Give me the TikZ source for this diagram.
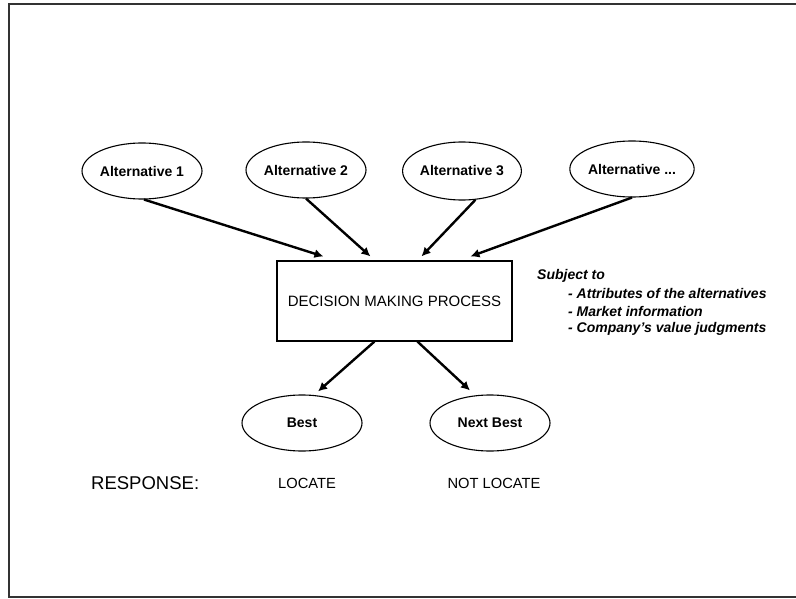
\documentclass[tikz,border=0pt]{standalone}
\usepackage{fontspec}
\setmainfont{Liberation Sans}
\usetikzlibrary{shapes.geometric,arrows.meta,calc}
\tikzset{
  alt/.style={ellipse, draw, line width=1.1pt, minimum width=120pt, minimum height=56pt, inner sep=0pt, font=\fontsize{14}{16}\selectfont\bfseries},
  arr/.style={line width=2.4pt, -{Latex[length=9pt,width=9pt]}},
  frame/.style={line width=2pt, draw=black!80},
  subj/.style={anchor=west, inner sep=0pt, font=\fontsize{14}{16}\selectfont\bfseries\itshape},
  resp/.style={inner sep=0pt, font=\fontsize{14.7}{16}\selectfont}
}
\begin{document}
\begin{tikzpicture}[x=1pt,y=-1pt]
\useasboundingbox (0,0) rectangle (796,599);
\draw[frame] (796,4) -- (9,4) -- (9,597) -- (796,597);
\node[alt] (a1) at (142,171) {Alternative 1};
\node[alt] (a2) at (306,170) {Alternative 2};
\node[alt, minimum width=108pt, minimum height=58pt] (a3) at (462,171) {Alternative 3};
\node[alt, minimum width=122pt] (a4) at (632,169) {Alternative ...};
\node[draw, line width=1.1pt, minimum width=235pt, minimum height=80pt, inner sep=0pt, font=\fontsize{15}{17}\selectfont] (box) at (394.5,301) {DECISION MAKING PROCESS};
\node[alt] (best) at (302,423) {Best};
\node[alt] (nb) at (490,423) {Next Best};
\draw[arr] (a1.-86) -- ($(box.north west)+(47,-4)$);
\draw[arr] (a2.south) -- ($(box.north west)+(94,-4)$);
\draw[arr] (a3.-65) -- ($(box.north west)+(145,-4)$);
\draw[arr] (a4.south) -- ($(box.north west)+(194,-4)$);
\draw[arr] ($(box.south west)+(98,0)$) -- ($(best.north)+(16,-3)$);
\draw[arr] ($(box.south west)+(141,0)$) -- ($(nb.north)+(-20,-4)$);
\node[subj] (s0) at (537,276) {Subject to};
\node[subj] (s1) at (568,293) {- Attributes of the alternatives};
\node[subj] (s2) at (568,311) {- Market information};
\node[subj] (s3) at (568,329) {- Company's value judgments};
\node[anchor=west, inner sep=0pt, font=\fontsize{18.5}{20}\selectfont] (resp) at (91,483) {RESPONSE:};
\node[resp] (loc) at (307,483) {LOCATE};
\node[resp] (nloc) at (494,483) {NOT LOCATE};
\end{tikzpicture}
\end{document}
